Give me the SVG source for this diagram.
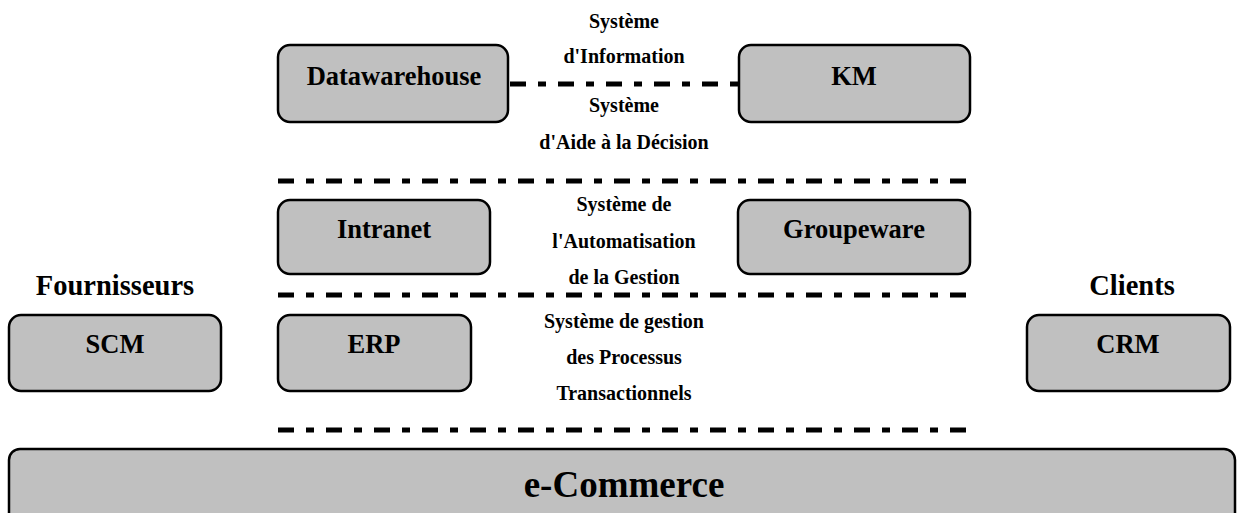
<svg xmlns="http://www.w3.org/2000/svg" width="1237" height="513" viewBox="0 0 1237 513">
<style>
.box{fill:#C0C0C0;stroke:#000;stroke-width:2.5}
.lbl{font-family:"Liberation Serif","Times New Roman",serif;font-weight:bold;fill:#000;text-anchor:middle}
.n{font-size:26.5px}
.m{font-size:20px}
.h{font-size:28.5px}
.dd{fill:none;stroke:#000;stroke-width:5;stroke-dasharray:16 12 8 12}
</style>
<rect width="1237" height="513" fill="#fff"/>
<g id="connectors">
<line class="dd" x1="510" y1="84" x2="739" y2="84"/>
<line class="dd" x1="278" y1="181" x2="970" y2="181"/>
<line class="dd" x1="278" y1="295" x2="970" y2="295"/>
<line class="dd" x1="278" y1="430" x2="970" y2="430"/>
</g>
<g id="datawarehouse"><rect class="box" x="278" y="45" width="230" height="77" rx="12"/><text class="lbl n" x="394" y="85">Datawarehouse</text></g>
<g id="km"><rect class="box" x="739" y="45" width="231" height="77" rx="12"/><text class="lbl n" x="854" y="85">KM</text></g>
<g id="intranet"><rect class="box" x="278" y="200" width="212" height="74" rx="12"/><text class="lbl n" x="384" y="238">Intranet</text></g>
<g id="groupeware"><rect class="box" x="738" y="200" width="232" height="74" rx="12"/><text class="lbl n" x="854" y="238">Groupeware</text></g>
<g id="scm"><rect class="box" x="9" y="315" width="212" height="76" rx="12"/><text class="lbl n" x="115" y="353">SCM</text></g>
<g id="erp"><rect class="box" x="278" y="315" width="193" height="76" rx="12"/><text class="lbl n" x="374" y="353">ERP</text></g>
<g id="crm"><rect class="box" x="1027" y="315" width="203" height="76" rx="12"/><text class="lbl n" x="1128" y="353">CRM</text></g>
<g id="ecommerce"><rect class="box" x="9" y="449" width="1226" height="90" rx="11"/><text class="lbl" style="font-size:37px" x="624" y="497">e-Commerce</text></g>
<g id="labels">
<text class="lbl h" x="115" y="295">Fournisseurs</text>
<text class="lbl h" x="1132" y="295">Clients</text>
<text class="lbl m" x="624" y="28">Système</text>
<text class="lbl m" x="624" y="63">d'Information</text>
<text class="lbl m" x="624" y="112">Système</text>
<text class="lbl m" x="624" y="149">d'Aide à la Décision</text>
<text class="lbl m" x="624" y="211">Système de</text>
<text class="lbl m" x="624" y="248">l'Automatisation</text>
<text class="lbl m" x="624" y="284">de la Gestion</text>
<text class="lbl m" x="624" y="328">Système de gestion</text>
<text class="lbl m" x="624" y="364">des Processus</text>
<text class="lbl m" x="624" y="400">Transactionnels</text>
</g>
</svg>
